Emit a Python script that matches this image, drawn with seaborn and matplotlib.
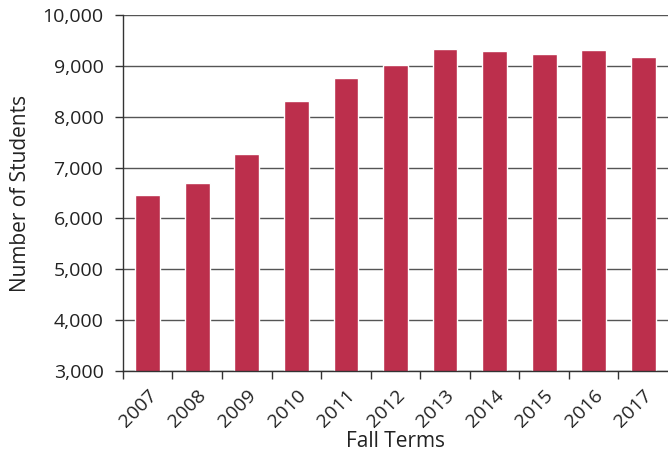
import matplotlib
matplotlib.use("Agg")
import matplotlib.pyplot as plt
import seaborn as sns
import pandas as pd
from matplotlib.ticker import FuncFormatter, MultipleLocator

years = ["2007", "2008", "2009", "2010", "2011", "2012", "2013", "2014", "2015", "2016", "2017"]
students = [6460, 6690, 7265, 8310, 8765, 9010, 9326, 9287, 9241, 9306, 9182]

df = pd.DataFrame({"Fall Terms": years, "Number of Students": students})

sns.set_theme(style="white")
plt.rcParams['font.family'] = ['Open Sans', 'DejaVu Sans']

fig = plt.figure(figsize=(6.68, 4.59), dpi=100)
ax = fig.add_axes([0.184, 0.192, 0.816, 0.775])

ax.yaxis.grid(True, color="#555555", linewidth=1.0)
ax.set_axisbelow(True)
sns.barplot(data=df, x="Fall Terms", y="Number of Students", color="#BC2F4C",
            saturation=1, width=0.5, ax=ax)

ax.set_ylim(3000, 10000)
ax.set_xlim(-0.5, len(years) - 0.5)
ax.yaxis.set_major_locator(MultipleLocator(1000))
ax.yaxis.set_major_formatter(FuncFormatter(lambda v, p: f"{int(v):,}"))

for s in ["top", "right"]:
    ax.spines[s].set_visible(False)
for s in ["left", "bottom"]:
    ax.spines[s].set_color("#333333")
    ax.spines[s].set_linewidth(1.0)

# x ticks at category boundaries, labels at centers
ax.set_xticks([i - 0.5 for i in range(len(years))], minor=False)
ax.set_xticklabels([])
ax.set_xticks(range(len(years)), minor=True)
ax.set_xticklabels(years, minor=True, rotation=45, ha="right", rotation_mode="anchor")
ax.tick_params(axis="x", which="major", bottom=True, length=6, width=1, color="#333333")
ax.tick_params(axis="x", which="minor", bottom=False, labelsize=14, colors="#222222", pad=7)
ax.tick_params(axis="y", left=True, length=6, width=1, color="#333333", labelsize=14,
               labelcolor="#222222", pad=8)

ax.set_xlabel("Fall Terms", fontsize=15, color="#222222", labelpad=0)
ax.set_ylabel("Number of Students", fontsize=15, color="#222222", labelpad=8)

fig.savefig("out.png", dpi=100)
